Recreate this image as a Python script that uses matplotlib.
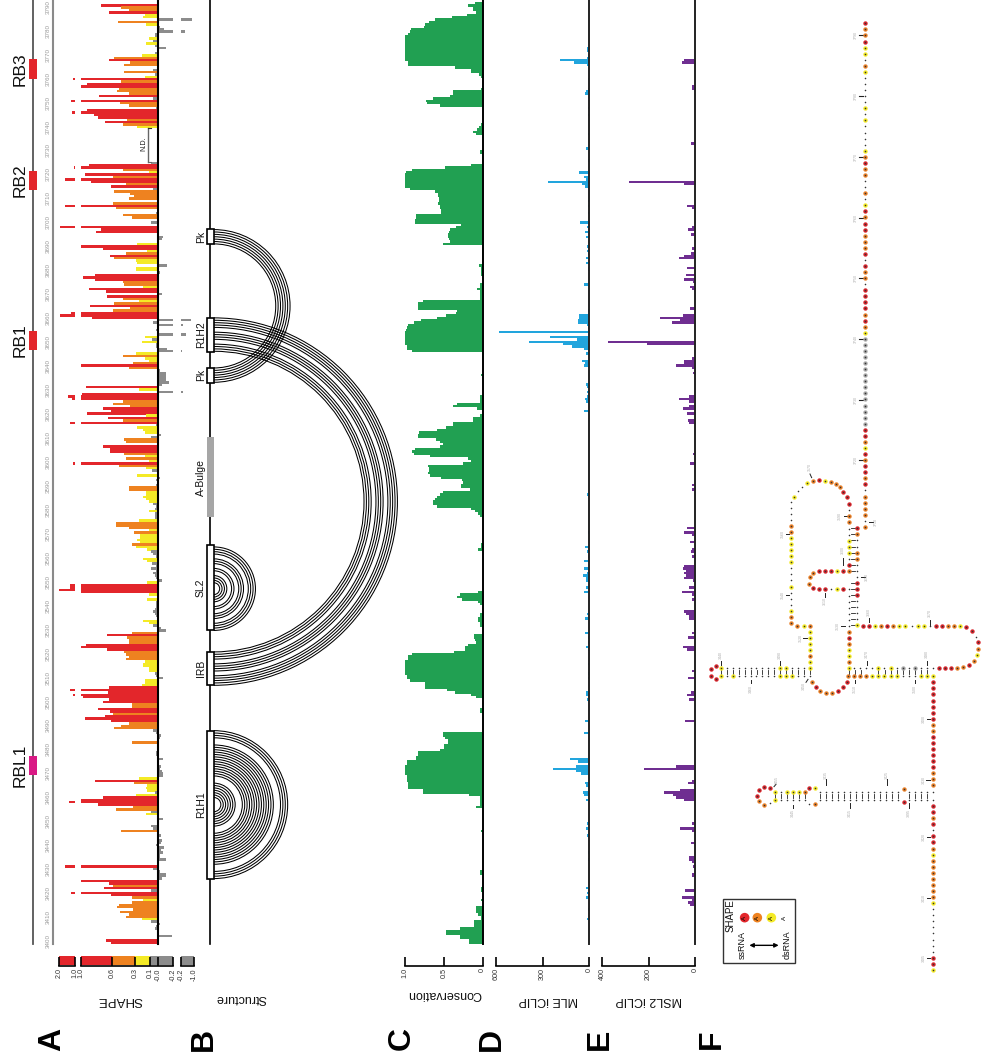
import numpy as np
import matplotlib
matplotlib.use('Agg')
import matplotlib.pyplot as plt
from matplotlib.patches import Arc, Rectangle

plt.rcParams['font.family'] = ['Liberation Sans', 'DejaVu Sans']

W, H = 986, 1063
nan = float('nan')

# SHAPE reactivity, nucleotide 3791 down to 3398, ten values per row
shape_vals = [
    .74, .48, .38, .63, .17, .2, -.88, .52, .15, -.03,
    -.08, -.45, .04, .04, .12, .06, .15, .04, -.1, 0,
    .04, .21, .57, .63, .36, .44, 0, .07, .44, .04,
    .17, 1.12, .48, .92, 1.0, .5, .53, .38, .76, .06,
    1.25, .49, .38, .03, .92, 1.19, .83, .78, .4, .69,
    .46, .27, nan, nan, nan, nan, nan, nan, nan, nan,
    nan, nan, nan, nan, nan, nan, .09, .9, 1.06, .46,
    .11, .95, .58, 1.62, .87, .42, .61, .07, .57, .36,
    .31, .38, 0, .58, 1.62, .55, 0, .03, .46, .34,
    0, .09, 0, 1.94, .74, .8, 0, -.06, -.05, 0,
    .27, 1.0, .71, .14, .42, .62, .57, .29, .27, -.12,
    .29, .28, -.03, .82, .97, .82, .46, .44, .19, .9,
    .67, -.05, .66, .46, .24, .57, .88, .36, .59, 1.25,
    1.94, .86, -.82, .07, -.3, 0, .02, 0, -.51, .17,
    .08, .21, .03, .03, -.12, -.25, .29, .46, .17, .12,
    .33, 1.0, .38, -.03, -.1, -.1, -.1, -.1, -.14, -.05,
    .93, .25, -.32, .99, 1.44, 1.19, .45, .59, .36, .72,
    .61, .92, .16, .65, .46, 1.31, .03, .27, .19, .17,
    -.04, .09, .44, .41, 0, .72, .62, .62, .44, .17,
    .42, .12, 1.12, .5, .16, .08, 0, .27, -.03, .03,
    0, .02, .38, .38, .16, .15, .19, .15, .12, .07,
    .03, .04, .11, .04, .04, .04, .25, .54, .54, .38,
    .11, .31, .23, .23, .27, .23, .34, .28, .14, .09,
    .07, .03, .19, .14, .08, .03, .09, .03, .07, .04,
    .03, -.05, .14, 1.31, 1.31, 2.0, 1.0, .11, 0, .14,
    .02, .02, .02, .04, .07, .04, .03, 0, .19, .12,
    .07, -.04, -.11, .34, .66, .4, .38, .38, .93, 1.0,
    .66, .44, .41, .38, .42, .17, .19, .2, .12, .11,
    .04, .02, -.06, .17, .17, .21, .63, 1.31, .65, 1.12,
    .97, .63, .72, .34, .34, .78, .62, .59, .69, .95,
    .61, .37, .48, .57, .06, .03, -.04, -.03, -.02, .34,
    0, 0, 0, .03, .02, .01, -.07, 0, 0, -.04,
    -.03, -.05, -.07, -.06, .24, .82, .31, .14, .15, .14,
    .04, .29, .72, 1.0, 1.38, .78, .33, .54, .09, .16,
    0, -.07, 0, 0, .09, .07, .48, 0, -.04, 0,
    -.05, -.04, .03, -.08, -.04, -.06, -.03, -.03, -.11, 0,
    0, 1.62, .06, -.03, -.11, -.1, -.05, 1.0, .63, .58,
    .7, .09, 1.25, .61, .34, .19, .34, .5, .53, .32,
    .49, .38, .42, .21, .09, -.03, .03, .04, 0, 0,
    -.18, 0, .67, .61,
]
shape_pos = list(range(3791, 3397, -1))

# conservation, nucleotide 3792 down to 3398
cons_vals = [
    .1,
    .19, .12, .12, .09, .2, .39, .61, .69, .74, .76,
    .92, .94, .96, 1, 1, 1, 1, 1, 1, 1,
    1, 1, 1, 1, .96, .96, .36, .15, .15, .05,
    .02, 0, 0, 0, 0, .02, .38, .38, .42, .64,
    .73, .72, .55, 0, 0, 0, 0, 0, 0, 0,
    .02, .05, .07, .12, .09, .01, 0, 0, 0, 0,
    0, .04, .03, .01, .01, .01, .01, .15, .48, .91,
    .99, 1, 1, 1, 1, 1, 1, .94, .61, .58,
    .57, .56, .56, .57, .55, .55, .54, .54, .86, .86,
    .87, .87, .28, .34, .42, .43, .45, .45, .44, .42,
    .51, .01, .01, .01, .01, .01, .01, .01, .01, .05,
    .02, .02, .02, .02, 0, 0, 0, .03, .03, .07,
    .04, .04, .03, .03, .77, .83, .83, .83, .33, .35,
    .47, .59, .79, .88, .96, .98, .99, 1, 1, 1,
    1, 1, 1, .98, .97, .91, .01, .01, .01, 0,
    0, 0, 0, 0, 0, .02, 0, 0, 0, 0,
    0, 0, 0, 0, .03, .04, .04, .33, .38, .07,
    .01, .01, .03, .12, .12, .38, .38, .47, .59, .82,
    .83, .83, .6, .55, .51, .55, .87, .91, .88, .68,
    .19, .15, .25, .7, .69, .69, .7, .68, .54, .27,
    .25, .28, .28, .16, .51, .55, .59, .61, .64, .64,
    .59, .15, .1, .06, .04, 0, 0, 0, 0, 0,
    0, 0, 0, 0, 0, 0, .02, .02, .06, 0,
    0, 0, 0, 0, 0, 0, 0, 0, 0, 0,
    0, 0, 0, 0, 0, 0, .06, .29, .33, .27,
    .06, .03, 0, 0, 0, .04, .04, .06, .06, .03,
    .03, 0, 0, 0, .11, .11, .1, .09, .19, .23,
    .23, .37, .91, .96, .96, 1, 1, 1, 1, 1,
    1, .98, .98, .94, .74, .74, .74, .46, .36, .15,
    .09, 0, 0, 0, 0, .04, .04, 0, 0, 0,
    0, 0, 0, 0, 0, .51, .51, .48, .45, .45,
    .5, .5, .55, .83, .83, .86, .86, .97, .97, 1,
    1, 1, 1, .98, .98, .98, .96, .96, .96, .77,
    .77, .18, .03, .03, .03, .03, .09, 0, 0, 0,
    0, 0, 0, 0, 0, 0, .02, 0, 0, 0,
    0, 0, 0, 0, 0, 0, 0, 0, 0, 0,
    0, 0, 0, .03, .03, 0, 0, 0, 0, 0,
    .02, .02, 0, 0, 0, .02, 0, 0, .09, .09,
    .09, .06, .02, .02, .11, .11, .11, .29, .47, .47,
    .29, .29, .18, .18,
]
cons_pos = list(range(3792, 3397, -1))

mle_pos = [3770, 3769, 3768, 3767, 3766, 3773, 3772, 3760, 3756, 3755, 3754, 3748, 3745, 3737, 3731, 3726,
           3721, 3719, 3718, 3717, 3716, 3715, 3714, 3709, 3707, 3704, 3700, 3698, 3696, 3694, 3690, 3688,
           3687, 3685, 3683, 3681, 3680, 3674, 3663, 3661, 3660, 3659, 3658, 3657, 3656, 3654, 3652, 3651,
           3650, 3649, 3648, 3647, 3645, 3642, 3641, 3640, 3632, 3631, 3629, 3627, 3626, 3625, 3621, 3586,
           3570, 3564, 3562, 3560, 3558, 3555, 3553, 3552, 3551, 3550, 3547, 3545, 3536, 3534, 3528, 3526,
           3524, 3522, 3521, 3515, 3511, 3509, 3503, 3502, 3500, 3491, 3486, 3475, 3474, 3472, 3471, 3470,
           3469, 3465, 3464, 3461, 3460, 3458, 3448, 3446, 3443, 3436, 3433, 3421, 3419, 3417, 3412, 3408]
mle_vals = [6, 13, 187, 97, 13, 13, 13, 6, 6, 19, 26, 6, 6, 6, 19, 6,
            65, 32, 19, 265, 45, 26, 6, 6, 6, 6, 58, 13, 26, 19, 13, 13,
            6, 19, 19, 6, 6, 32, 6, 65, 65, 71, 71, 13, 6, 580, 252, 77,
            387, 168, 110, 32, 19, 45, 26, 32, 19, 13, 13, 13, 26, 19, 32, 13,
            6, 26, 13, 6, 32, 32, 13, 39, 19, 19, 19, 32, 13, 26, 26, 6,
            6, 19, 6, 6, 6, 6, 19, 19, 13, 26, 32, 123, 71, 84, 232, 84,
            52, 26, 19, 39, 32, 19, 13, 19, 13, 6, 6, 19, 13, 19, 6, 13]

msl2_pos = [3768, 3767, 3757, 3756, 3733, 3717, 3716, 3707, 3706, 3698, 3697, 3695, 3689, 3687, 3686, 3685,
            3681, 3678, 3676, 3675, 3673, 3672, 3664, 3661, 3660, 3659, 3658, 3650, 3649, 3643, 3642, 3641,
            3640, 3639, 3637, 3627, 3626, 3625, 3623, 3622, 3620, 3617, 3616, 3603, 3599, 3590, 3588, 3572,
            3570, 3569, 3566, 3563, 3562, 3560, 3556, 3555, 3554, 3553, 3552, 3551, 3550, 3547, 3545, 3544,
            3542, 3537, 3536, 3535, 3534, 3528, 3526, 3522, 3521, 3512, 3509, 3503, 3502, 3500, 3491, 3472,
            3471, 3466, 3465, 3462, 3461, 3460, 3459, 3458, 3448, 3446, 3445, 3440, 3434, 3433, 3432, 3430,
            3427, 3426, 3420, 3417, 3416, 3415, 3414]
msl2_vals = [47, 56, 13, 13, 17, 284, 47, 34, 13, 13, 30, 17, 13, 17, 47, 69,
             34, 39, 47, 9, 22, 13, 22, 52, 150, 65, 99, 374, 206, 13, 47, 47,
             82, 13, 9, 26, 69, 26, 26, 52, 34, 30, 26, 9, 22, 13, 13, 34,
             47, 13, 22, 13, 17, 13, 47, 52, 39, 47, 39, 47, 9, 26, 56, 13,
             13, 47, 39, 26, 26, 13, 30, 52, 34, 13, 30, 17, 34, 26, 43, 82,
             219, 13, 30, 65, 133, 95, 82, 47, 13, 65, 13, 17, 26, 26, 13, 9,
             13, 13, 43, 56, 13, 30, 22]

tick_labels = [str(n) for n in range(3400, 3800, 10)]

# RNA binding regions, first and last nucleotide
rb_names = ['RB3', 'RB2', 'RB1', 'RBL1']
rb_start = [3760.1, 3713.6, 3646.5, 3468.4]
rb_end = [3768.5, 3721.6, 3654.5, 3476.4]
rb_colors = ['#E3262B', '#E3262B', '#E3262B', '#D91A85']

# helices: paired nucleotides
r1h1_a = [3425, 3426, 3427, 3428, 3431, 3432, 3433, 3434, 3435, 3436, 3437, 3438, 3439, 3440, 3441, 3442, 3443, 3444,
          3447, 3448, 3449, 3450, 3451, 3452, 3453]
r1h1_b = [3487, 3486, 3485, 3484, 3481, 3480, 3479, 3478, 3477, 3476, 3475, 3474, 3473, 3472, 3471, 3470, 3469, 3468,
          3465, 3464, 3463, 3462, 3461, 3460, 3459]
sl2_a = [3529, 3530, 3531, 3532, 3534, 3535, 3536, 3538, 3539, 3541, 3542, 3543, 3544]
sl2_b = [3564, 3563, 3562, 3561, 3559, 3558, 3557, 3555, 3554, 3552, 3551, 3550, 3549]
long_a = [3506, 3507, 3508, 3509, 3510, 3512, 3513, 3514, 3515, 3517, 3518, 3519, 3520]
long_b = [3660, 3659, 3658, 3657, 3656, 3654, 3653, 3652, 3651, 3649, 3648, 3647, 3646]
pk_a = [3633, 3634, 3635, 3636, 3637, 3638, 3639]
pk_b = [3697, 3696, 3695, 3694, 3693, 3692, 3691]

box_names = ['R1H1', 'IRB', 'SL2', 'Pk', 'R1H2', 'Pk']
box_start = [3424.8, 3506, 3529, 3632.7, 3645.7, 3690.8]
box_end = [3487, 3520, 3564.6, 3639.1, 3660, 3697.2]

# secondary structure, one letter per nucleotide: r o y g SHAPE colour, . no colour
main_strand = ('rooryy.oy' '.....' 'y.y....y' 'oroo..o.y' 'rorrooor' '.roo.' 'rrrroroy'
               'ggggggggggggggg' 'rroyr' 'orror.oooo.o')
right_col = 'ro..oo...rrr....y'
right_row = 'rryoroyy.yy.rrooy'
tip_codes = 'rr.royorоorrr'.replace('о', 'o')
top_row = '...g.g.y.y....'
bottom_row = 'yyy...yyyyyoooo'
left_col_low = 'yoyyoro.......'
left_col_up = 'or.yyy..oo.r'
arch_codes = 'rrooоyroy..y.'.replace('о', 'o')
far_col = '...ooyyyyy...y...yoo'
cross_row = 'oyo'
down_col = 'yyyyoyy'
bottom_loop = 'orooorrr'
inner_top = 'ryrrr'
inner_tip = 'ooor'
inner_low = 'rr.yr'
stem1_top = '...yy.........y'
stem1_loop = 'rrrr'
stem1_low = 'y.y.......yyy...'
lower_a = 'rrrrrrroorrrrrrooo.'
lower_b = '.rror.rroyoooooooy........rry'
stem2_outer = '....'
stem2_mid = '..............'
stem2_top_in = 'oyyy.y'
stem2_low_in = 'y.....'
stem2_loop = 'rrrroo.'
legend_cols = ['#E3262B', '#EE8220', '#F4EA26']


def ax_px(x0, x1, y0, y1):
    a = fig.add_axes([x0 / W, 1 - y1 / H, (x1 - x0) / W, (y1 - y0) / H])
    a.patch.set_alpha(0)
    return a


def label(x, y, s, size, rot=0, bold=False, color='#111111'):
    fig.text(x / W, 1 - y / H, s, fontsize=size, rotation=rot, ha='center', va='center',
             fontweight='bold' if bold else 'normal', color=color)


def shape_color(v):
    if v >= .6:
        return '#E3262B'
    if v >= .3:
        return '#EE8220'
    if v >= .1:
        return '#F4EA26'
    return '#8C8C8C'


def track(x0, x1, xmax, ticks, names):
    # x axis at the bottom of the column, value grows to the left
    a = ax_px(x0, x1, 0, 965.5)
    a.set_xlim(xmax[0], xmax[1])
    a.set_ylim(p_low, p_high)
    a.set_yticks([])
    for s in ['left', 'right', 'top']:
        a.spines[s].set_visible(False)
    a.spines['bottom'].set_linewidth(1.2)
    a.set_xticks(ticks)
    a.set_xticklabels(names)
    a.tick_params(axis='x', direction='in', length=6.5, width=1.2, labelsize=5.2, labelrotation=90,
                  pad=2, labelcolor='#333333')
    return a


fig = plt.figure(figsize=(W / 100, H / 100), dpi=100)
scale = 2.386
p_low = 3398 + (943 - 965.5) / scale
p_high = 3398 + 943 / scale

# A: region bars and position ruler
ax = ax_px(0, 60, 0, 965.5)
ax.set_xlim(0, 60)
ax.set_ylim(p_low, p_high)
ax.axis('off')
ax.plot([33, 33], [3397.5, p_high], color='#555555', lw=1.3)
ax.plot([53, 53], [3397.5, p_high], color='#8a8a8a', lw=1.5)
ax.barh([(a + b) / 2 for a, b in zip(rb_start, rb_end)], 8, left=29,
        height=[b - a for a, b in zip(rb_start, rb_end)], color=rb_colors, zorder=3)
for name, a, b in zip(rb_names, rb_start, rb_end):
    ax.text(20, (a + b) / 2, name, rotation=90, ha='center', va='center', fontsize=12.5, color='#111111')
for t, s in zip(np.linspace(3398.8, 3790.4, len(tick_labels)), tick_labels):
    ax.text(48.5, t, s, rotation=90, ha='center', va='center', fontsize=4.5, color='#999999')

# A: SHAPE, axis broken in three parts
colors = [shape_color(v) if v == v else 'none' for v in shape_vals]
ax_hi = track(59, 75, (2, 1), [2, 1], ['2.0', '1.0'])
ax_mid = track(81, 173.3, (1, -.2), [1, .6, .3, .1, 0, -.2], ['1.0', '0.6', '0.3', '0.1', '-0.0', '-0.2'])
ax_lo = track(181, 194, (-.2, -1), [-.2, -1], ['-0.2', '-1.0'])
for a in [ax_hi, ax_mid, ax_lo]:
    a.barh(shape_pos, shape_vals, height=1.02, color=colors, linewidth=0)
leg_y = p_low + 2.05
leg_h = 3.9
ax_hi.barh(leg_y, 1, left=1, height=leg_h, color='#E3262B')
ax_mid.barh([leg_y] * 5, [.4, .3, .2, .1, .3], left=[.6, .3, .1, 0, -.2], height=leg_h,
            color=['#E3262B', '#EE8220', '#F4EA26', '#8C8C8C', '#8C8C8C'])
ax_lo.barh(leg_y, -.8, left=-.2, height=leg_h, color='#8C8C8C')
ax_mid.plot([0, 0], [3397.5, p_high], color='black', lw=1.5, zorder=5)
ax_mid.plot([.127, .127], [3725.5, 3739.5], color='#666666', lw=1)
ax_mid.plot([.127, .09], [3739.5, 3739.5], color='#333333', lw=.8)
ax_mid.plot([.127, .09], [3725.5, 3725.5], color='#666666', lw=.8)
ax_mid.text(.185, 3733, 'N.D.', rotation=90, ha='center', va='center', fontsize=5.2, color='#222222')

# B: structure, x axis in nucleotides so the arcs stay round
st = ax_px(190, 405, 0, 965.5)
st.set_xlim((190 - 213.7) / scale, (405 - 213.7) / scale)
st.set_ylim(p_low, p_high)
st.axis('off')
st.plot([-1.4, -1.4], [3397.5, p_high], color='black', lw=1.2)
for pa, pb in [(r1h1_a, r1h1_b), (sl2_a, sl2_b), (long_a, long_b), (pk_a, pk_b)]:
    for a, b in zip(pa, pb):
        st.add_patch(Arc((0, (a + b) / 2), b - a, b - a, theta1=-90, theta2=90, color='black', lw=.75))
st.barh([(a + b) / 2 for a, b in zip(box_start, box_end)], 2.8, left=-2.8,
        height=[b - a for a, b in zip(box_start, box_end)], color='white', edgecolor='black', linewidth=1.2, zorder=3)
st.barh(3593.2, 2.8, left=-2.8, height=33.5, color='#A6A6A6', zorder=3)
for name, a, b in zip(box_names, box_start, box_end):
    st.text(-5.4, (a + b) / 2, name, rotation=90, ha='center', va='center', fontsize=7.5, color='#111111')
st.text(-5.4, 3593.2, 'A-Bulge', rotation=90, ha='center', va='center', fontsize=7.5, color='#111111')

# C, D, E
ax_c = track(405, 482.7, (1, 0), [1, .5, 0], ['1.0', '0.5', '0'])
ax_c.barh(cons_pos, cons_vals, height=1.02, color='#21A052', linewidth=0)
ax_c.plot([0, 0], [3397.5, p_high], color='black', lw=1.4, clip_on=False, zorder=5)

ax_d = track(496, 589, (600, 0), [600, 300, 0], ['600', '300', '0'])
ax_d.barh(mle_pos, mle_vals, height=1.02, color='#22A5DD', linewidth=0)
ax_d.plot([0, 0], [3397.5, p_high], color='#222222', lw=1.4, clip_on=False, zorder=5)

ax_e = track(602, 695, (400, 0), [400, 200, 0], ['400', '200', '0'])
ax_e.barh(msl2_pos, msl2_vals, height=1.02, color='#6F2E91', linewidth=0)
ax_e.plot([0, 0], [3397.5, p_high], color='#222222', lw=1.4, clip_on=False, zorder=5)

label(120, 1000, 'SHAPE', 9.5, 180)
label(241, 998, 'Structure', 9, 180)
label(444, 994, 'Conservation', 9, 180)
label(548, 1000, 'MLE iCLIP', 9, 180)
label(649, 1000, 'MSL2 iCLIP', 9, 180)
for s, x in zip('ABCDEF', [52, 204, 402, 492, 600, 712]):
    label(x, 1039, s, 23, 90, True, 'black')

# F: secondary structure, drawn in a 3x grid that starts at pixel (700, 450)
f = ax_px(700, 986, 0, 1063)
f.set_xlim(0, 858)
f.set_ylim(1839, -1350)
f.axis('off')
dot_col = {'r': '#D7232A', 'o': '#E97F26', 'y': '#F3E925', 'g': '#A8A8A8'}


def dots(xs, ys, codes):
    for x, y, c in zip(xs, ys, codes):
        if c in dot_col:
            f.scatter(x, y, s=10, color=dot_col[c], linewidths=0, zorder=3)
        f.scatter(x, y, s=1.3, color='#333333', linewidths=0, zorder=4)


def strand(x0, y0, dx, dy, codes):
    n = len(codes)
    dots(x0 + dx * np.arange(n), y0 + dy * np.arange(n), codes)


def rungs(xa, ya, xb, yb):
    f.plot([xa, xb], [ya, yb], color='#222222', lw=.6, zorder=2)


strand(496, -1280, 0, 18.2, main_strand)
strand(471, 235, 0, 18.2, right_col)
strand(489, 527, 18.2, 0, right_row)
dots([799, 815, 827, 834, 835, 831, 821, 807, 790, 772, 753, 735, 717],
     [532, 543, 560, 576, 596, 615, 633, 645, 652, 655, 655, 655, 655], tip_codes)
strand(699, 655, -18.2, 0, top_row)
strand(699, 679, -18.2, 0, bottom_row)
strand(447, 655, 0, -18.2, left_col_low)
strand(447, 363, 0, -18.2, left_col_up)
dots([441, 429, 419, 407, 392, 375, 357, 339, 321, 307, 293, 282, 274],
     [140, 126, 112, 102, 95, 92, 91, 93, 100, 110, 124, 140, 155], arch_codes)
strand(273, 173, 0, 18.2, far_col)
strand(292, 527, 18.5, 0, cross_row)
strand(329, 546, 0, 18.2, down_col)
dots([336, 348, 361, 378, 396, 414, 430, 441], [697, 711, 722, 728, 728, 722, 711, 697], bottom_loop)
strand(429, 364, -18, 0, inner_top)
dots([339, 329, 328, 340], [368, 381, 401, 414], inner_tip)
strand(357, 418, 18.2, 0, inner_low)
strand(311, 655, -17.7, 0, stem1_top)
dots([47, 32, 32, 47], [648, 657, 677, 687], stem1_loop)
strand(63, 679, 17.7, 0, stem1_low)
strand(699, 697, 0, 18.2, lower_a)
strand(699, 1050, 0, 18.2, lower_b)
strand(681, 1025, -18.2, 0, stem2_outer)
dots([611], [1018], 'o')
strand(595, 1025, -18.1, 0, stem2_mid)
dots([345, 327], [1014, 1014], 'yr')
strand(314, 1026, -18, 0, stem2_top_in)
dots([210, 192, 177, 171, 177, 192, 210], [1013, 1011, 1021, 1037, 1054, 1065, 1060], stem2_loop)
strand(224, 1050, 18, 0, stem2_low_in)
dots([327, 345], [1062, 1062], '.o')
strand(360, 1050, 18.1, 0, stem2_mid)
dots([611], [1056], 'r')
strand(627, 1050, 18.2, 0, stem2_outer)

for y in np.arange(235, 535, 18.2):
    if abs(y - 381) > 8:
        rungs(454, y, 464, y)
for x in np.arange(681, 530, -18.2):
    rungs(x, 661, x, 673)
for x in np.arange(483, 440, -18.2):
    rungs(x, 661, x, 673)
for x in np.arange(329, 60, -17.7):
    rungs(x, 661, x, 673)
for x in np.arange(681, 620, -18.2):
    rungs(x, 1031, x, 1044)
for x in np.arange(595, 355, -18.1):
    rungs(x, 1031, x, 1044)
for x in np.arange(314, 220, -18):
    rungs(x, 1031, x, 1044)

# numbering ticks: grey number next to a short black tick
for i, s in enumerate(['3790', '3780', '3770', '3760', '3750', '3740', '3730', '3720']):
    y = -1244 + 182.2 * i
    f.plot([478, 489], [y, y], color='#222222', lw=.8)
    f.text(468, y, s, rotation=90, fontsize=2.6, ha='center', va='center', color='#aaaaaa')
num_x0 = [508, 330, 258, 258, 432, 430, 375, 483, 508, 690, 502, 681, 465, 645, 423, 310, 240, 152, 318, 62, 681,
          678, 680, 680, 680, 560, 378, 278, 451, 627, 222]
num_y0 = [217, 72, 252, 435, 198, 345, 430, 381, 505, 510, 633, 633, 690, 690, 527, 564, 633, 690, 697, 633, 808,
          990, 1162, 1343, 1525, 1005, 1005, 1066, 1060, 1060, 1010]
num_x1 = [520, 335, 268, 268, 445, 430, 375, 495, 508, 690, 502, 681, 465, 645, 436, 322, 240, 152, 324, 62, 691,
          689, 689, 689, 689, 560, 378, 278, 451, 627, 228]
num_y1 = [217, 83, 252, 435, 198, 325, 442, 381, 515, 525, 646, 646, 700, 700, 527, 564, 645, 700, 688, 645, 808,
          990, 1162, 1343, 1525, 988, 988, 1075, 1075, 1075, 1003]
num_tx = [527, 330, 248, 248, 421, 430, 375, 502, 508, 690, 502, 681, 465, 645, 415, 303, 240, 152, 312, 62, 672,
          672, 672, 672, 672, 560, 378, 278, 451, 627, 232]
num_ty = [217, 52, 252, 435, 198, 300, 452, 381, 486, 488, 612, 612, 716, 716, 527, 564, 615, 716, 708, 615, 808,
          990, 1162, 1343, 1525, 975, 975, 1090, 1090, 1090, 990]
num_txt = ['3710', '3570', '3560', '3540', '3590', '3600', '3610', '3650', '3660', '3670', '3470', '3480', '3510',
           '3500', '3530', '3520', '3490', '3460', '3450', '3440', '3400', '3430', '3420', '3410', '3405',
           '3425', '3435', '3445', '3415', '3395', '3455']
for x0, y0, x1, y1, tx, ty, s in zip(num_x0, num_y0, num_x1, num_y1, num_tx, num_ty, num_txt):
    f.plot([x0, x1], [y0, y1], color='#222222', lw=.7)
    f.text(tx, ty, s, rotation=90, fontsize=2.6, ha='center', va='center', color='#aaaaaa')

# F: legend
f.add_patch(Rectangle((70, 476 + 870), 214, 192, fill=False, edgecolor='#333333', lw=1))
f.scatter([134, 172, 214], [533 + 870] * 3, s=48, color=legend_cols, linewidths=0, zorder=3)
for x in [134, 172, 214, 254]:
    f.text(x, 533 + 870, 'A', rotation=90, fontsize=4.5, ha='center', va='center', color='black', zorder=5)
f.text(93, 528 + 870, 'SHAPE', rotation=90, fontsize=7, ha='center', va='center', color='#111111')
f.text(127, 615 + 870, 'ssRNA', rotation=90, fontsize=6.5, ha='center', va='center', color='#111111')
f.text(262, 615 + 870, 'dsRNA', rotation=90, fontsize=6.5, ha='center', va='center', color='#111111')
f.annotate('', xy=(148, 616 + 870), xytext=(236, 616 + 870),
           arrowprops=dict(arrowstyle='<|-|>', color='black', lw=1, mutation_scale=6, shrinkA=0, shrinkB=0))

fig.savefig('out.png', dpi=100)
